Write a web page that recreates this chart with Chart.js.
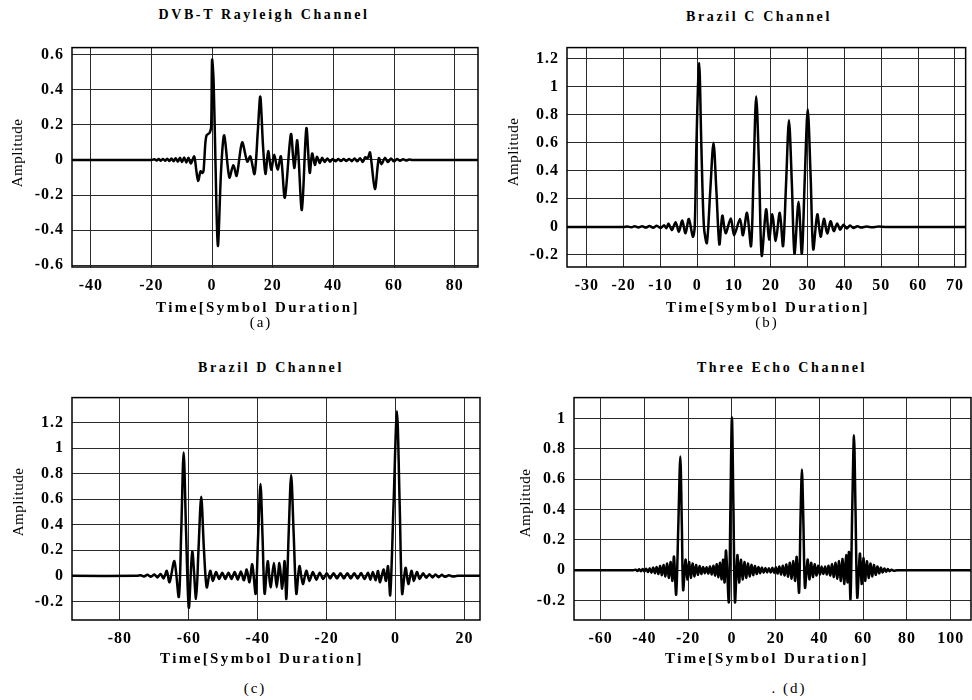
<!DOCTYPE html>
<html>
<head>
<meta charset="utf-8">
<script src="https://cdn.jsdelivr.net/npm/chart.js@4.4.1/dist/chart.umd.min.js"></script>
<style>
body{margin:0;background:#fff;width:972px;height:700px;position:relative;overflow:hidden;font-family:"Liberation Serif",serif;color:#000}
canvas{position:absolute}
.t{position:absolute;transform:translate(-50%,-50%);white-space:nowrap}
.ttl{font-size:14px;font-weight:bold;letter-spacing:2.6px}
.xt{font-size:15px;font-weight:bold;letter-spacing:2.4px}
.yt{font-size:15px;letter-spacing:0.5px;transform:translate(-50%,-50%) rotate(-90deg)}
.cap{font-size:15px;letter-spacing:2px}
</style>
</head>
<body>
<canvas id="ca" width="486" height="270" style="left:0;top:30px"></canvas>
<canvas id="cb" width="486" height="270" style="left:486px;top:30px"></canvas>
<canvas id="cc" width="486" height="273" style="left:0;top:380px"></canvas>
<canvas id="cd" width="486" height="273" style="left:486px;top:380px"></canvas>

<div class="t ttl" style="left:264px;top:15px">DVB-T Rayleigh Channel</div>
<div class="t ttl" style="left:759px;top:17px">Brazil C Channel</div>
<div class="t ttl" style="left:271px;top:368px">Brazil D Channel</div>
<div class="t ttl" style="left:782px;top:368px">Three Echo Channel</div>

<div class="t xt" style="left:258px;top:307px">Time[Symbol Duration]</div>
<div class="t xt" style="left:768px;top:307px">Time[Symbol Duration]</div>
<div class="t xt" style="left:262px;top:658px">Time[Symbol Duration]</div>
<div class="t xt" style="left:767px;top:658px">Time[Symbol Duration]</div>

<div class="t yt" style="left:17px;top:153px">Amplitude</div>
<div class="t yt" style="left:513px;top:152px">Amplitude</div>
<div class="t yt" style="left:18px;top:502px">Amplitude</div>
<div class="t yt" style="left:525px;top:503px">Amplitude</div>

<div class="t cap" style="left:261px;top:322px">(a)</div>
<div class="t cap" style="left:767px;top:322px">(b)</div>
<div class="t cap" style="left:255px;top:688px">(c)</div>
<div class="t cap" style="left:789px;top:688px">. (d)</div>

<script>
// impulse responses, [time, amplitude]
const rayleigh = [[-46.2,0],[-20,0],[-19,0.004],[-18.3,-0.003],[-17.6,0.005],[-16.9,-0.004],[-16.2,0.006],[-15.5,-0.005],[-14.8,0.007],[-14.1,-0.006],[-13.4,0.008],[-12.7,-0.007],[-12,0.01],[-11.3,-0.01],[-10.6,0.012],[-9.9,-0.012],[-9.2,0.014],[-8.5,-0.014],[-7.8,0.012],[-7,-0.02],[-5.9,0.02],[-5.2,-0.06],[-4.6,-0.12],[-3.8,-0.065],[-3.2,-0.075],[-2.8,-0.06],[-2.2,0.1],[-1.8,0.14],[-0.8,0.155],[-0.3,0.19],[0,0.57],[0.5,0.45],[1.1,0],[1.9,-0.49],[3,-0.05],[4,0.14],[5.7,-0.1],[7,-0.03],[8.1,-0.09],[9.9,0.1],[11.6,-0.01],[12.6,0.02],[14,-0.08],[15.1,0.17],[15.9,0.36],[16.8,0.08],[17.6,-0.08],[18.5,0.05],[19.5,-0.055],[20.5,0.03],[21.6,-0.055],[22.7,0.02],[24,-0.215],[26,0.147],[27.1,-0.046],[28.1,0.11],[29.6,-0.285],[31.1,0.18],[32.2,-0.073],[33,0.037],[33.9,-0.028],[34.6,0.018],[35.5,-0.018],[36.3,0.012],[37.1,-0.012],[38,0.008],[38.9,-0.01],[39.8,0.006],[40.7,-0.008],[41.6,0.005],[42.5,-0.006],[43.4,0.005],[44.3,-0.006],[45.2,0.006],[46.1,-0.007],[47,0.008],[47.9,-0.008],[48.8,0.01],[49.7,-0.012],[50.5,0.015],[51.3,0.01],[52.1,0.042],[53.7,-0.165],[55,0.01],[55.9,-0.024],[57,0.012],[58,-0.012],[59,0.008],[60,-0.008],[61,0.005],[62,-0.005],[63,0.004],[64,-0.003],[65,0.002],[66,0],[87.7,0]]

const brazilC = [[-35.4,0],[-20,0],[-19,0.003],[-18,-0.003],[-17,0.004],[-16,-0.004],[-15,0.005],[-14,-0.005],[-13,0.006],[-12,-0.006],[-11,0.008],[-10,-0.008],[-9,0.012],[-8.4,-0.01],[-7.8,0.023],[-6.9,-0.023],[-5.9,0.034],[-5,-0.034],[-4.1,0.046],[-3.2,-0.046],[-2.3,0.057],[-1.2,-0.07],[-0.7,0],[-0.25,0.58],[0.5,1.17],[1.1,0.58],[1.8,0],[2.6,-0.115],[3.5,0.25],[4.4,0.6],[5.2,0.25],[6,-0.125],[6.8,0.08],[7.7,-0.045],[9.1,0.06],[10,-0.06],[11.6,0.057],[12.4,-0.06],[13.5,0.1],[14.6,-0.137],[15.3,0.4],[16,0.93],[16.8,0.4],[17.5,-0.205],[18.7,0.125],[19.5,-0.09],[20.4,0.09],[21.3,-0.1],[22.4,0.1],[23.3,-0.137],[24.1,0.3],[24.9,0.76],[25.7,0.3],[26.4,-0.19],[27.5,0.18],[28.4,-0.19],[29.2,0.35],[30,0.84],[30.8,0.35],[31.5,-0.16],[32.6,0.09],[33.5,-0.07],[34.4,0.057],[35.3,-0.046],[36.2,0.04],[37.1,-0.03],[38,0.025],[38.8,-0.02],[39.7,0.015],[40.6,-0.012],[41.5,0.01],[42.4,-0.008],[43.5,0.005],[44.5,-0.005],[46,0.003],[47.5,-0.003],[49,0.002],[51,0],[72.9,0]]

const brazilD = [[-93.9,0],[-75,0],[-74,0.005],[-73,-0.005],[-72,0.008],[-71,-0.008],[-70,0.01],[-69.1,-0.012],[-68.2,0.015],[-67.3,-0.02],[-66.4,0.04],[-65.6,-0.05],[-64.2,0.115],[-62.9,-0.165],[-62.2,0.35],[-61.5,0.967],[-60.8,0.35],[-60,-0.25],[-59,0.19],[-57.9,-0.18],[-57.2,0.2],[-56.4,0.62],[-55.6,0.2],[-54.8,-0.09],[-53.8,0.04],[-53,-0.04],[-52.1,0.03],[-51.2,-0.025],[-50.3,0.025],[-49.4,-0.025],[-48.5,0.025],[-47.6,-0.025],[-46.7,0.03],[-45.8,-0.03],[-44.9,0.035],[-44,-0.035],[-43.2,0.05],[-42.4,-0.05],[-41.6,0.09],[-40.6,-0.14],[-39.9,0.3],[-39.2,0.72],[-38.6,0.3],[-38,-0.14],[-37.1,0.115],[-36.3,-0.09],[-35.3,0.1],[-34.5,-0.09],[-33.7,0.1],[-32.9,-0.1],[-32.2,0.115],[-31.7,-0.18],[-31,0.35],[-30.3,0.79],[-29.6,0.35],[-28.8,-0.14],[-27.9,0.076],[-26.9,-0.064],[-25.9,0.04],[-25,-0.04],[-24,0.03],[-23,-0.03],[-22,0.025],[-21,-0.025],[-20,0.02],[-19,-0.02],[-18,0.02],[-17,-0.02],[-16,0.02],[-15,-0.02],[-14,0.02],[-13,-0.02],[-12,0.02],[-11,-0.02],[-10,0.022],[-9,-0.025],[-8,0.025],[-7.3,-0.03],[-6.6,0.03],[-5.8,-0.035],[-5.1,0.038],[-4.5,-0.05],[-3.5,0.05],[-2.8,-0.04],[-2.2,0.076],[-1.55,-0.15],[-0.6,0.55],[0.4,1.29],[1.2,0.55],[1.9,-0.14],[2.9,0.064],[3.7,-0.064],[4.6,0.04],[5.3,-0.04],[6.2,0.03],[7,-0.025],[8,0.02],[8.9,-0.015],[9.8,0.012],[10.7,-0.012],[11.6,0.01],[12.5,-0.01],[13.4,0.008],[14.3,-0.008],[15.5,0.005],[16.5,-0.005],[18,0],[24.5,0]]

const threeEcho = [[-72.2,0],[-45,0],[-44,0.004],[-43.2,-0.004],[-42.4,0.006],[-41.6,-0.006],[-40.8,0.008],[-40,-0.008],[-39.2,0.01],[-38.4,-0.012],[-37.6,0.014],[-36.8,-0.016],[-36,0.018],[-35.2,-0.02],[-34.4,0.022],[-33.6,-0.025],[-32.8,0.028],[-32,-0.032],[-31.2,0.035],[-30.4,-0.04],[-29.6,0.045],[-28.8,-0.05],[-28,0.055],[-27.2,-0.07],[-26.5,0.09],[-25.5,-0.16],[-24.5,0.3],[-23.6,0.75],[-22.9,0.3],[-22.3,-0.13],[-21.2,0.07],[-20.4,-0.06],[-19.6,0.055],[-18.8,-0.05],[-18,0.045],[-17.2,-0.04],[-16.4,0.035],[-15.6,-0.03],[-14.8,0.028],[-14,-0.025],[-13.2,0.022],[-12.4,-0.02],[-11.6,0.02],[-10.8,-0.022],[-10,0.025],[-9.2,-0.028],[-8.4,0.03],[-7.65,-0.035],[-6.9,0.04],[-6.15,-0.045],[-5.4,0.05],[-4.7,-0.06],[-4,0.07],[-3.35,-0.08],[-2.7,0.13],[-1.4,-0.21],[-0.7,0.4],[0,1.01],[0.7,0.4],[1.4,-0.21],[2.5,0.1],[3.3,-0.08],[4.1,0.07],[4.9,-0.06],[5.7,0.055],[6.5,-0.05],[7.3,0.045],[8.1,-0.04],[8.9,0.036],[9.7,-0.032],[10.5,0.028],[11.3,-0.025],[12.1,0.022],[12.9,-0.02],[13.7,0.018],[14.5,-0.016],[15.3,0.015],[16.1,-0.014],[16.9,0.014],[17.7,-0.015],[18.5,0.016],[19.3,-0.018],[20.1,0.02],[20.9,-0.022],[21.7,0.025],[22.5,-0.028],[23.3,0.03],[24.1,-0.034],[24.9,0.038],[25.7,-0.042],[26.5,0.05],[27.3,-0.055],[28.1,0.06],[28.9,-0.07],[29.6,0.088],[30.7,-0.147],[31.3,0.3],[32,0.665],[32.7,0.3],[33.4,-0.115],[34.6,0.07],[35.4,-0.06],[36.2,0.05],[37,-0.045],[37.8,0.04],[38.6,-0.035],[39.4,0.03],[40.2,-0.028],[41,0.025],[41.8,-0.025],[42.6,0.025],[43.4,-0.028],[44.2,0.03],[45,-0.035],[45.8,0.04],[46.6,-0.045],[47.4,0.05],[48.2,-0.055],[49,0.06],[49.8,-0.07],[50.6,0.075],[51.4,-0.09],[52.2,0.1],[52.9,-0.08],[53.5,0.12],[54.2,-0.19],[55,0.4],[55.8,0.89],[56.5,0.4],[57.3,-0.18],[58.5,0.11],[59.3,-0.09],[60.1,0.08],[60.9,-0.07],[61.7,0.06],[62.5,-0.05],[63.3,0.045],[64.1,-0.04],[64.9,0.035],[65.7,-0.03],[66.5,0.025],[67.3,-0.02],[68.1,0.018],[68.9,-0.015],[69.7,0.012],[70.5,-0.01],[71.3,0.008],[72.1,-0.006],[73,0.004],[74,-0.003],[75.5,0],[109.3,0]]

// tick labels
const xTicksA = [-40, -20, 0, 20, 40, 60, 80]
const yTicksA = [-0.6, -0.4, -0.2, 0, 0.2, 0.4, 0.6]
const xTicksB = [-30, -20, -10, 0, 10, 20, 30, 40, 50, 60, 70]
const yTicksB = [-0.2, 0, 0.2, 0.4, 0.6, 0.8, 1, 1.2]
const xTicksC = [-80, -60, -40, -20, 0, 20]
const yTicksC = [-0.2, 0, 0.2, 0.4, 0.6, 0.8, 1, 1.2]
const xTicksD = [-60, -40, -20, 0, 20, 40, 60, 80, 100]
const yTicksD = [-0.2, 0, 0.2, 0.4, 0.6, 0.8, 1]

const frame = {
    id: 'frame',
    beforeDraw(c) { c.ctx.letterSpacing = '1px' },
    afterDraw(c) {
        const a = c.chartArea, ctx = c.ctx
        ctx.save()
        ctx.strokeStyle = '#000'
        ctx.lineWidth = 1.5
        ctx.strokeRect(a.left, a.top, a.right - a.left, a.bottom - a.top)
        ctx.restore()
    }
}

const tickFont = { family: 'Liberation Serif', size: 16, weight: 'bold' }

function panel(id, pts, xr, yr, xt, yt, box) {
    new Chart(document.getElementById(id), {
        type: 'line',
        data: {
            datasets: [{
                data: pts.map(p => ({ x: p[0], y: p[1] })),
                borderColor: '#000',
                borderWidth: 2.5,
                pointRadius: 0,
                tension: 0.3,
                fill: false
            }]
        },
        options: {
            responsive: false,
            animation: false,
            events: [],
            layout: { padding: { top: box.top, right: box.right, left: 0, bottom: 0 } },
            plugins: { legend: { display: false }, tooltip: { enabled: false } },
            scales: {
                x: {
                    type: 'linear', min: xr[0], max: xr[1],
                    afterBuildTicks: s => { s.ticks = xt.map(v => ({ value: v })) },
                    afterFit: s => { s.height = box.xh },
                    grid: { color: '#2a2a2a', drawTicks: false },
                    border: { display: false },
                    ticks: { color: '#000', font: tickFont, padding: 9, maxRotation: 0, autoSkip: false, callback: v => String(v) }
                },
                y: {
                    type: 'linear', min: yr[0], max: yr[1],
                    afterBuildTicks: s => { s.ticks = yt.map(v => ({ value: v })) },
                    afterFit: s => { s.width = box.yw },
                    grid: { color: '#2a2a2a', drawTicks: false },
                    border: { display: false },
                    ticks: { color: '#000', font: tickFont, padding: 8, autoSkip: false, callback: v => String(v) }
                }
            }
        },
        plugins: [frame]
    })
}

panel('ca', rayleigh, [-46.2, 87.7], [-0.61, 0.64], xTicksA, yTicksA, { yw: 72, top: 6, right: 8, xh: 33 })
panel('cb', brazilC, [-35.4, 72.9], [-0.286, 1.279], xTicksB, yTicksB, { yw: 81, top: 7, right: 1, xh: 33 })
panel('cc', brazilD, [-93.9, 24.5], [-0.346, 1.397], xTicksC, yTicksC, { yw: 72, top: 10, right: 6, xh: 33 })
panel('cd', threeEcho, [-72.2, 109.3], [-0.328, 1.139], xTicksD, yTicksD, { yw: 88, top: 11, right: 1, xh: 33 })
</script>
</body>
</html>
